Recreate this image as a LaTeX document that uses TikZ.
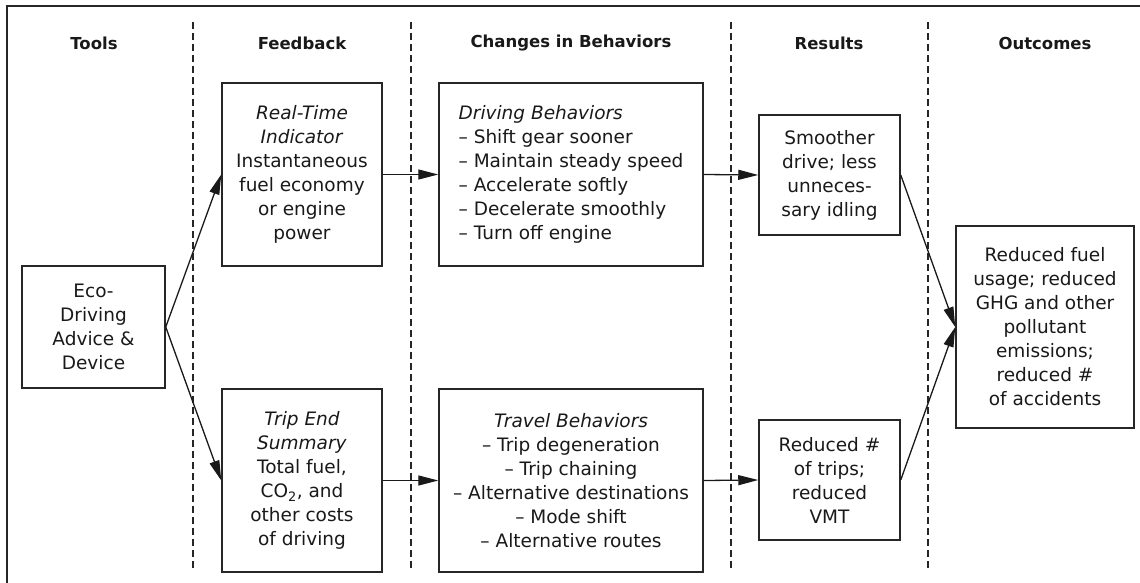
\documentclass[tikz,border=0pt]{standalone}
\usepackage{fontspec}
\setmainfont{DejaVu Sans}
\usetikzlibrary{arrows.meta}

\begin{document}
\begin{tikzpicture}[x=1pt,y=-1pt,
  box/.style={draw=black!85, line width=1.5pt, inner sep=0pt, align=center,
    font=\fontsize{18.5}{24}\selectfont, text=black!90},
  head/.style={font=\fontsize{16.5}{20}\selectfont\bfseries, text=black!90},
  divider/.style={draw=black!85, line width=1.1pt, dash pattern=on 7pt off 4pt},
  flow/.style={draw=black!90, line width=1.3pt, -{Triangle[length=20pt,width=10pt]}}]

\useasboundingbox (0,0) rectangle (1140,583);

% open frame: top and left edges
\draw[black!85, line width=1.5pt] (7,583) -- (7,6) -- (1140,6);

% column dividers
\foreach \x/\n in {193/d1, 411/d2, 731/d3, 928/d4}{
  \coordinate (\n top) at (\x,22);
  \coordinate (\n bot) at (\x,570);
  \draw[divider] (\n top) -- (\n bot);
}

% column headings
\node[head] (hTools)    at (94,43)  {Tools};
\node[head] (hFeedback) at (302,43) {Feedback};
\node[head] (hChanges)  at (571,43) {Changes in Behaviors};
\node[head] (hResults)  at (829,43) {Results};
\node[head] (hOutcomes) at (1045,43) {Outcomes};

% boxes
\node[box, minimum width=143pt, minimum height=122pt] (eco) at (93.5,327)
  {Eco-\\Driving\\Advice \&\\Device};

\node[box, minimum width=160pt, minimum height=183pt] (rti) at (302,174.5)
  {\textit{Real-Time}\\\textit{Indicator}\\Instantaneous\\fuel economy\\or engine\\power};

\node[box, minimum width=160pt, minimum height=183pt] (tes) at (302,480.5)
  {\textit{Trip End}\\\textit{Summary}\\Total fuel,\\CO\textsubscript{2}, and\\other costs\\of driving};

\node[box, minimum width=264pt, minimum height=183pt] (drv) at (571,174.5)
  {\begin{tabular}{@{}l@{}}\textit{Driving Behaviors}\\
   -- Shift gear sooner\\
   -- Maintain steady speed\\
   -- Accelerate softly\\
   -- Decelerate smoothly\\
   -- Turn off engine\end{tabular}};

\node[box, minimum width=264pt, minimum height=183pt] (trv) at (571,480.5)
  {\textit{Travel Behaviors}\\
   -- Trip degeneration\\
   -- Trip chaining\\
   -- Alternative destinations\\
   -- Mode shift\\
   -- Alternative routes};

\node[box, minimum width=141pt, minimum height=120pt] (smo) at (829.5,175)
  {Smoother\\drive; less\\unneces-\\sary idling};

\node[box, minimum width=141pt, minimum height=120pt] (red) at (829.5,480)
  {Reduced \#\\of trips;\\reduced\\VMT};

\node[box, minimum width=178pt, minimum height=202pt] (out) at (1045,327)
  {Reduced fuel\\usage; reduced\\GHG and other\\pollutant\\emissions;\\reduced \#\\of accidents};

% connectors
\draw[flow] (eco.east) -- (rti.west);
\draw[flow] (eco.east) -- (tes.west);
\draw[flow] (rti.east) -- (drv.west);
\draw[flow] (tes.east) -- (trv.west);
\draw[flow] (drv.east) -- (smo.west);
\draw[flow] (trv.east) -- (red.west);
\draw[flow] (smo.east) -- (out.west);
\draw[flow] (red.east) -- (out.west);
\end{tikzpicture}
\end{document}
